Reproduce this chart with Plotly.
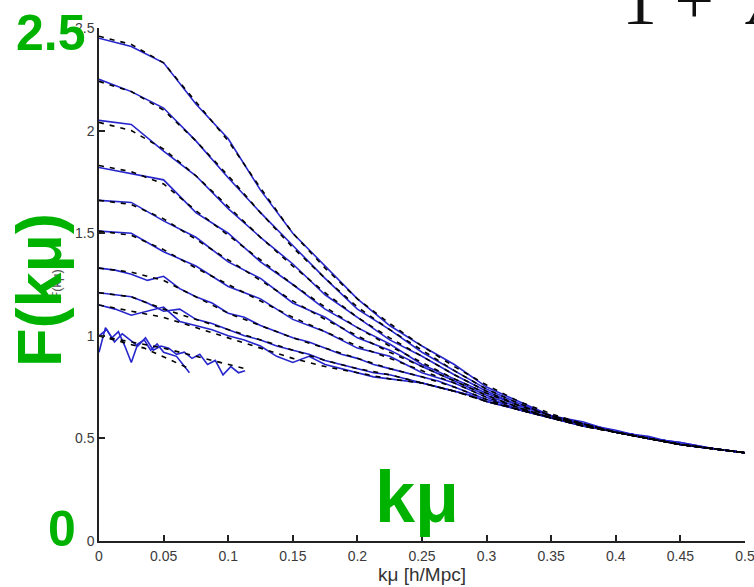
import plotly.graph_objects as go

# k mu grid (h/Mpc) shared by the smooth model curves and most measurements
K = [0.0, 0.025, 0.05, 0.075, 0.1, 0.125, 0.15, 0.175, 0.2, 0.225, 0.25,
     0.275, 0.3, 0.325, 0.35, 0.375, 0.4, 0.425, 0.45, 0.475, 0.5]

# finer grid for the noisier low-amplitude measurements
K_FINE = [0.0, 0.0125, 0.025, 0.0375, 0.05, 0.0625, 0.075, 0.0875, 0.1, 0.1125,
          0.125, 0.1375, 0.15, 0.1625, 0.175, 0.1875, 0.2, 0.2125, 0.225, 0.2375,
          0.25, 0.2625, 0.275, 0.2875, 0.3, 0.3125, 0.325, 0.3375, 0.35, 0.3625,
          0.375, 0.3875, 0.4, 0.4125, 0.425, 0.4375, 0.45, 0.4625, 0.475, 0.4875, 0.5]

# model F(k mu), dashed
MODEL_A = [2.46, 2.42, 2.33, 2.14, 1.95, 1.72, 1.50, 1.33, 1.18, 1.06, 0.95, 0.85, 0.76, 0.68, 0.62, 0.57, 0.53, 0.50, 0.47, 0.45, 0.43]
MODEL_B = [2.24, 2.19, 2.10, 1.95, 1.78, 1.60, 1.43, 1.28, 1.14, 1.03, 0.93, 0.83, 0.74, 0.67, 0.61, 0.57, 0.53, 0.50, 0.47, 0.45, 0.43]
MODEL_C = [2.04, 2.00, 1.91, 1.78, 1.63, 1.48, 1.34, 1.21, 1.09, 0.99, 0.90, 0.81, 0.73, 0.66, 0.61, 0.57, 0.53, 0.50, 0.47, 0.45, 0.43]
MODEL_D = [1.83, 1.80, 1.74, 1.61, 1.49, 1.37, 1.25, 1.14, 1.04, 0.95, 0.87, 0.79, 0.72, 0.66, 0.61, 0.57, 0.53, 0.50, 0.47, 0.45, 0.43]
MODEL_E = [1.66, 1.64, 1.57, 1.47, 1.37, 1.27, 1.17, 1.08, 1.00, 0.92, 0.85, 0.78, 0.71, 0.65, 0.60, 0.57, 0.53, 0.50, 0.47, 0.45, 0.43]
MODEL_F = [1.51, 1.49, 1.42, 1.33, 1.25, 1.17, 1.09, 1.02, 0.95, 0.89, 0.83, 0.77, 0.70, 0.65, 0.60, 0.56, 0.53, 0.50, 0.47, 0.45, 0.43]
MODEL_G = [1.33, 1.31, 1.27, 1.19, 1.11, 1.05, 0.99, 0.94, 0.89, 0.84, 0.80, 0.75, 0.69, 0.64, 0.60, 0.56, 0.53, 0.50, 0.47, 0.45, 0.43]
MODEL_H = [1.21, 1.19, 1.13, 1.08, 1.03, 0.98, 0.93, 0.88, 0.84, 0.81, 0.77, 0.73, 0.68, 0.64, 0.60, 0.56, 0.53, 0.50, 0.47, 0.45, 0.43]
MODEL_I = [1.15, 1.12, 1.09, 1.04, 0.99, 0.94, 0.89, 0.85, 0.82, 0.79, 0.77, 0.73, 0.68, 0.64, 0.60, 0.56, 0.53, 0.50, 0.47, 0.45, 0.43]

K_N1_MODEL = [0.0, 0.0175, 0.035, 0.0525, 0.07]
MODEL_N1 = [1.00, 0.97, 0.94, 0.89, 0.84]
K_N2_MODEL = [0.0, 0.025, 0.05, 0.075, 0.1, 0.113]
MODEL_N2 = [1.00, 0.97, 0.94, 0.90, 0.86, 0.84]

# measured F(k mu), solid blue
DATA_A = [2.45, 2.41, 2.33, 2.13, 1.96, 1.71, 1.50, 1.34, 1.18, 1.05, 0.95, 0.86, 0.75, 0.68, 0.61, 0.57, 0.54, 0.50, 0.48, 0.45, 0.43]
DATA_B = [2.25, 2.19, 2.11, 1.95, 1.77, 1.60, 1.44, 1.28, 1.13, 1.03, 0.92, 0.83, 0.74, 0.67, 0.61, 0.58, 0.53, 0.50, 0.47, 0.45, 0.43]
DATA_C = [2.05, 2.03, 1.90, 1.78, 1.62, 1.48, 1.35, 1.20, 1.09, 0.98, 0.90, 0.81, 0.73, 0.66, 0.61, 0.57, 0.53, 0.51, 0.47, 0.45, 0.43]
DATA_D = [1.82, 1.79, 1.76, 1.60, 1.50, 1.36, 1.25, 1.13, 1.04, 0.96, 0.86, 0.79, 0.72, 0.66, 0.61, 0.57, 0.53, 0.50, 0.47, 0.45, 0.43]
DATA_E = [1.66, 1.65, 1.56, 1.48, 1.36, 1.28, 1.16, 1.09, 0.99, 0.93, 0.85, 0.78, 0.71, 0.65, 0.60, 0.57, 0.53, 0.50, 0.48, 0.45, 0.43]
DATA_F = [1.51, 1.50, 1.41, 1.34, 1.24, 1.18, 1.08, 1.02, 0.94, 0.90, 0.82, 0.77, 0.70, 0.64, 0.60, 0.56, 0.53, 0.50, 0.47, 0.45, 0.43]
DATA_G = [1.33, 1.32, 1.30, 1.27, 1.29, 1.23, 1.19, 1.16, 1.11, 1.09, 1.05, 1.02, 0.99, 0.97, 0.94, 0.91, 0.89, 0.86, 0.84, 0.82,
          0.80, 0.78, 0.75, 0.72, 0.69, 0.67, 0.64, 0.62, 0.60, 0.59, 0.57, 0.55, 0.53, 0.52, 0.50, 0.49, 0.47, 0.46, 0.45, 0.44, 0.43]
DATA_H = [1.21, 1.20, 1.19, 1.16, 1.12, 1.13, 1.08, 1.06, 1.03, 1.00, 0.98, 0.95, 0.93, 0.91, 0.88, 0.86, 0.84, 0.82, 0.81, 0.79,
          0.77, 0.75, 0.73, 0.71, 0.68, 0.66, 0.64, 0.62, 0.60, 0.58, 0.56, 0.55, 0.53, 0.52, 0.50, 0.49, 0.47, 0.46, 0.45, 0.44, 0.43]
DATA_I = [1.15, 1.13, 1.10, 1.12, 1.14, 1.07, 1.05, 1.03, 1.00, 0.98, 0.95, 0.90, 0.87, 0.90, 0.86, 0.84, 0.82, 0.80, 0.79, 0.78,
          0.77, 0.75, 0.73, 0.71, 0.68, 0.66, 0.64, 0.62, 0.60, 0.58, 0.56, 0.55, 0.53, 0.52, 0.50, 0.49, 0.47, 0.46, 0.45, 0.44, 0.43]

K_N1 = [0.0, 0.005, 0.01, 0.015, 0.02, 0.025, 0.03, 0.035, 0.04, 0.045, 0.05, 0.055, 0.06, 0.065, 0.07]
DATA_N1 = [0.92, 1.04, 0.99, 1.02, 0.95, 0.87, 0.96, 0.98, 0.93, 0.96, 0.92, 0.91, 0.90, 0.86, 0.82]
K_N2 = [0.0, 0.006, 0.012, 0.018, 0.024, 0.03, 0.036, 0.042, 0.048, 0.054, 0.06, 0.066, 0.072, 0.078,
        0.084, 0.09, 0.096, 0.102, 0.108, 0.113]
DATA_N2 = [1.00, 1.03, 0.97, 1.01, 0.98, 0.95, 0.99, 0.93, 0.95, 0.94, 0.91, 0.92, 0.89, 0.91,
           0.86, 0.88, 0.81, 0.85, 0.82, 0.83]

X_TICKS = [0, 0.05, 0.1, 0.15, 0.2, 0.25, 0.3, 0.35, 0.4, 0.45, 0.5]
X_TICK_TEXT = ["0", "0.05", "0.1", "0.15", "0.2", "0.25", "0.3", "0.35", "0.4", "0.45", "0.5"]
Y_TICKS = [0, 0.5, 1, 1.5, 2, 2.5]
Y_TICK_TEXT = ["0", "0.5", "1", "1.5", "2", "2.5"]

BLUE = "rgb(38,38,205)"
GREEN = "rgb(0,178,0)"

measured = [(K, DATA_A), (K, DATA_B), (K, DATA_C), (K, DATA_D), (K, DATA_E), (K, DATA_F),
            (K_FINE, DATA_G), (K_FINE, DATA_H), (K_FINE, DATA_I), (K_N1, DATA_N1), (K_N2, DATA_N2)]
model = [(K, MODEL_A), (K, MODEL_B), (K, MODEL_C), (K, MODEL_D), (K, MODEL_E), (K, MODEL_F),
         (K, MODEL_G), (K, MODEL_H), (K, MODEL_I), (K_N1_MODEL, MODEL_N1), (K_N2_MODEL, MODEL_N2)]

fig = go.Figure()
for kx, fy in measured:
    fig.add_trace(go.Scatter(x=kx, y=fy, mode="lines", showlegend=False,
                             line=dict(color=BLUE, width=1.6)))
for kx, fy in model:
    fig.add_trace(go.Scatter(x=kx, y=fy, mode="lines", showlegend=False,
                             line=dict(color="black", width=1.6, dash="5px,6px")))

axis_font = dict(family="Liberation Sans, Arial, sans-serif", size=14, color="#3a3a3a")
fig.update_xaxes(range=[0, 0.5], tickvals=X_TICKS, ticktext=X_TICK_TEXT, automargin=False,
                 showgrid=False, zeroline=False, showline=True, linecolor="#222",
                 linewidth=1.5, ticks="inside", ticklen=6, tickwidth=1.5, tickcolor="#222",
                 tickfont=axis_font, ticklabelstandoff=1, ticklabeloverflow="allow",
                 title=dict(text="kμ [h/Mpc]", font=dict(family="Liberation Sans, Arial, sans-serif",
                                                          size=19, color="#333"), standoff=2))
fig.update_yaxes(range=[0, 2.5], tickvals=Y_TICKS, ticktext=Y_TICK_TEXT, automargin=False,
                 showgrid=False, zeroline=False, showline=True, linecolor="#222",
                 linewidth=1.5, ticks="inside", ticklen=6, tickwidth=1.5, tickcolor="#222",
                 tickfont=axis_font, ticklabeloverflow="allow",
                 title=dict(text="F(kμ)", font=dict(family="Liberation Sans, Arial, sans-serif",
                                                     size=13, color="#555"), standoff=10))

big = dict(family="Liberation Sans, Arial, sans-serif", color=GREEN)
annotations = [
    dict(text="<b>2.5</b>", x=-0.074, y=0.990, font=dict(size=50, **big), textangle=0),
    dict(text="<b>0</b>", x=-0.057, y=0.023, font=dict(size=50, **big), textangle=0),
    dict(text="<b>F(kμ)</b>", x=-0.093, y=0.489, font=dict(size=63, **big), textangle=-90),
    dict(text="<b>kμ</b>", x=0.492, y=0.086, font=dict(size=72, **big), textangle=0),
]
for a in annotations:
    fig.add_annotation(xref="paper", yref="paper", showarrow=False,
                       xanchor="center", yanchor="middle", **a)

# equation fragment at the top edge
fig.add_annotation(xref="paper", yref="paper", showarrow=False, x=0.806, y=1.054,
                   xanchor="left", yanchor="middle", text="1 +&nbsp;&nbsp;<i>A</i>",
                   font=dict(family="Liberation Serif, Times New Roman, serif", size=70, color="#111"))

fig.update_layout(width=754, height=587, paper_bgcolor="white", plot_bgcolor="white",
                  margin=dict(l=99, r=9, t=28, b=46, autoexpand=False))

fig.write_html("out.html")
